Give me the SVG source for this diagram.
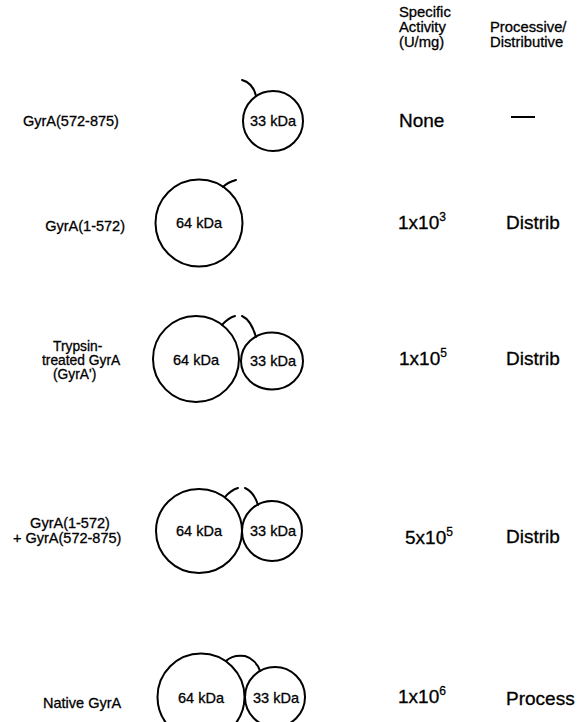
<svg xmlns="http://www.w3.org/2000/svg" width="582" height="722" viewBox="0 0 582 722">
<style>
text{font-family:"Liberation Sans",Arial,sans-serif;fill:#000;stroke:#000;stroke-width:0.3}
.lbl{font-size:14.5px}
.sm{font-size:13.8px}
.hdr{font-size:14.8px}
.val{font-size:19px}
.sup{font-size:12px}
.c{fill:none;stroke:#000;stroke-width:2}
.t{fill:none;stroke:#000;stroke-width:2;stroke-linecap:round}
.mid{text-anchor:middle}
</style>
<rect width="582" height="722" fill="#fff"/>
<g id="header">
<text class="hdr" x="399" y="17">Specific</text>
<text class="hdr" x="399" y="32">Activity</text>
<text class="hdr" x="399" y="47">(U/mg)</text>
<text class="hdr" x="490" y="32">Processive/</text>
<text class="hdr" x="490" y="47">Distributive</text>
</g>
<g id="row1">
<text class="lbl" x="23" y="126">GyrA(572-875)</text>
<circle class="c" cx="273" cy="121" r="30"/>
<text class="lbl mid" x="273" y="126">33 kDa</text>
<text class="val" x="399" y="127">None</text>
<line x1="511" y1="117" x2="535" y2="117" stroke="#000" stroke-width="2"/>
</g>
<g id="row2">
<text class="lbl" x="125" y="231" text-anchor="end">GyrA(1-572)</text>
<circle class="c" cx="199" cy="223" r="43.5"/>
<text class="lbl mid" x="199" y="228">64 kDa</text>
<text class="val" x="398" y="229">1x10<tspan class="sup" dy="-8">3</tspan></text>
<text class="val" x="506" y="229">Distrib</text>
</g>
<g id="row3">
<text class="sm" x="53" y="351">Trypsin-</text>
<text class="sm" x="42" y="365">treated GyrA</text>
<text class="sm" x="53" y="379">(GyrA')</text>
<circle class="c" cx="196" cy="359" r="43"/>
<ellipse class="c" cx="272" cy="361" rx="31" ry="28.5"/>
<text class="lbl mid" x="196" y="365">64 kDa</text>
<text class="lbl mid" x="273" y="366">33 kDa</text>
<text class="val" x="399" y="365">1x10<tspan class="sup" dy="-8">5</tspan></text>
<text class="val" x="506" y="365">Distrib</text>
</g>
<g id="row4">
<text class="lbl mid" x="70" y="528">GyrA(1-572)</text>
<text class="lbl" x="13" y="543">+ GyrA(572-875)</text>
<ellipse class="c" cx="199" cy="531" rx="43" ry="42"/>
<circle class="c" cx="272" cy="531" r="30"/>
<text class="lbl mid" x="199" y="536">64 kDa</text>
<text class="lbl mid" x="273" y="536">33 kDa</text>
<text class="val" x="405" y="544">5x10<tspan class="sup" dy="-8">5</tspan></text>
<text class="val" x="506" y="543">Distrib</text>
</g>
<g id="row5">
<text class="lbl" x="43" y="708">Native GyrA</text>
<circle class="c" cx="201" cy="697" r="43.5"/>
<circle class="c" cx="275" cy="697" r="30"/>
<text class="lbl mid" x="201" y="703">64 kDa</text>
<text class="lbl mid" x="276" y="703">33 kDa</text>
<text class="val" x="398" y="703">1x10<tspan class="sup" dy="-8">6</tspan></text>
<text class="val" x="506" y="705">Process</text>
</g>
<g id="connectors">
<path class="t" d="M242,80 Q253,83 256,96"/>
<path class="t" d="M223,187 Q228,182 236,180"/>
<path class="t" d="M222,325 Q228,318 235,316"/>
<path class="t" d="M242,316 Q251,320 256,337"/>
<path class="t" d="M225,497 Q231,490 238,488"/>
<path class="t" d="M245,488 Q254,492 258,505"/>
<path class="t" d="M226,661 C231,656 238,655 245,656 C252,658 258,664 260,671"/>
</g>
</svg>
